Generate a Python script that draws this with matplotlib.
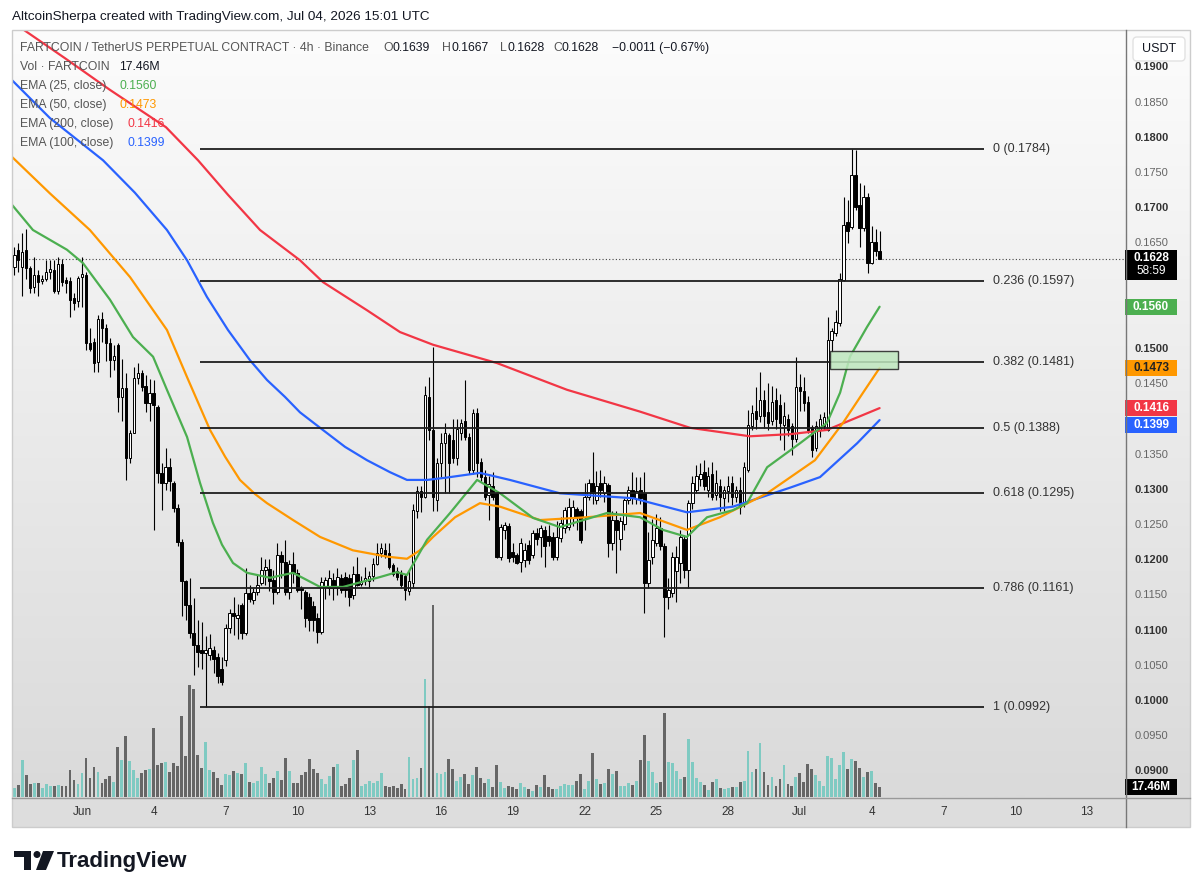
import numpy as np
import pandas as pd
import matplotlib
matplotlib.use('Agg')
import matplotlib.pyplot as plt
from matplotlib.colors import LinearSegmentedColormap
from matplotlib.patches import Rectangle, Polygon, Circle, FancyBboxPatch
from matplotlib.transforms import blended_transform_factory

plt.rcParams['font.family'] = ['Liberation Sans', 'DejaVu Sans']

# ---- values (4h candles, FARTCOIN/USDT) ----
first_candle = '2026-05-29 04:00'

opens = [
    0.1617, 0.1640, 0.1617, 0.1641, 0.1615, 0.1588, 0.1605, 0.1596, 0.1600, 0.1610,
    0.1612, 0.1582, 0.1620, 0.1598, 0.1596, 0.1572, 0.1568, 0.1602, 0.1605, 0.1508,
    0.1510, 0.1482, 0.1543, 0.1530, 0.1508, 0.1484, 0.1505, 0.1432, 0.1444, 0.1345,
    0.1381, 0.1459, 0.1466, 0.1448, 0.1423, 0.1437, 0.1418, 0.1324, 0.1310, 0.1332,
    0.1310, 0.1274, 0.1226, 0.1170, 0.1137, 0.1097, 0.1080, 0.1073, 0.1068, 0.1065,
    0.1072, 0.1062, 0.1045, 0.1058, 0.1104, 0.1125, 0.1118, 0.1136, 0.1097, 0.1153,
    0.1143, 0.1155, 0.1167, 0.1186, 0.1188, 0.1172, 0.1155, 0.1207, 0.1197, 0.1155,
    0.1195, 0.1182, 0.1160, 0.1155, 0.1148, 0.1135, 0.1118, 0.1098, 0.1163, 0.1160,
    0.1172, 0.1160, 0.1174, 0.1176, 0.1175, 0.1150, 0.1180, 0.1166, 0.1170, 0.1170,
    0.1178, 0.1195, 0.1210, 0.1215, 0.1210, 0.1193, 0.1185, 0.1180, 0.1177, 0.1156,
    0.1168, 0.1270, 0.1298, 0.1290, 0.1432, 0.1385, 0.1285, 0.1338, 0.1366, 0.1378,
    0.1370, 0.1345, 0.1380, 0.1398, 0.1375, 0.1328, 0.1409, 0.1340, 0.1318, 0.1292,
    0.1306, 0.1295, 0.1205, 0.1243, 0.1248, 0.1211, 0.1208, 0.1197, 0.1200, 0.1222,
    0.1208, 0.1238, 0.1233, 0.1243, 0.1235, 0.1233, 0.1205, 0.1232, 0.1245, 0.1247,
    0.1262, 0.1273, 0.1270, 0.1262, 0.1290, 0.1310, 0.1285, 0.1310, 0.1296, 0.1307,
    0.1225, 0.1257, 0.1230, 0.1252, 0.1285, 0.1300, 0.1287, 0.1300, 0.1295, 0.1168,
    0.1205, 0.1225, 0.1245, 0.1220, 0.1148, 0.1153, 0.1185, 0.1196, 0.1230, 0.1186,
    0.1281, 0.1300, 0.1315, 0.1325, 0.1300, 0.1323, 0.1293, 0.1305, 0.1288, 0.1298,
    0.1310, 0.1290, 0.1300, 0.1283, 0.1328, 0.1390, 0.1412, 0.1405, 0.1428, 0.1410,
    0.1398, 0.1428, 0.1420, 0.1392, 0.1400, 0.1390, 0.1372, 0.1446, 0.1440, 0.1425,
    0.1389, 0.1360, 0.1385, 0.1390, 0.1385, 0.1513, 0.1522, 0.1537, 0.1598, 0.1680,
    0.1673, 0.1747, 0.1705, 0.1672, 0.1716, 0.1622, 0.1652, 0.1639,
]
highs = [
    0.1645, 0.1650, 0.1665, 0.1670, 0.1618, 0.1630, 0.1612, 0.1605, 0.1626, 0.1627,
    0.1627, 0.1630, 0.1628, 0.1602, 0.1602, 0.1580, 0.1604, 0.1630, 0.1610, 0.1530,
    0.1515, 0.1548, 0.1552, 0.1535, 0.1516, 0.1505, 0.1508, 0.1486, 0.1466, 0.1385,
    0.1474, 0.1480, 0.1470, 0.1463, 0.1457, 0.1456, 0.1420, 0.1338, 0.1360, 0.1345,
    0.1312, 0.1280, 0.1230, 0.1172, 0.1175, 0.1146, 0.1115, 0.1112, 0.1093, 0.1095,
    0.1078, 0.1068, 0.1062, 0.1110, 0.1130, 0.1148, 0.1138, 0.1139, 0.1189, 0.1165,
    0.1160, 0.1180, 0.1205, 0.1202, 0.1202, 0.1186, 0.1224, 0.1213, 0.1229, 0.1200,
    0.1212, 0.1188, 0.1163, 0.1157, 0.1153, 0.1142, 0.1125, 0.1176, 0.1176, 0.1186,
    0.1182, 0.1189, 0.1180, 0.1183, 0.1180, 0.1192, 0.1205, 0.1177, 0.1190, 0.1184,
    0.1203, 0.1224, 0.1224, 0.1224, 0.1224, 0.1196, 0.1190, 0.1186, 0.1180, 0.1186,
    0.1280, 0.1305, 0.1305, 0.1448, 0.1460, 0.1503, 0.1345, 0.1380, 0.1395, 0.1380,
    0.1400, 0.1400, 0.1400, 0.1456, 0.1380, 0.1415, 0.1416, 0.1345, 0.1328, 0.1320,
    0.1325, 0.1298, 0.1252, 0.1254, 0.1253, 0.1225, 0.1210, 0.1232, 0.1225, 0.1228,
    0.1243, 0.1245, 0.1250, 0.1248, 0.1250, 0.1240, 0.1255, 0.1262, 0.1275, 0.1288,
    0.1285, 0.1276, 0.1272, 0.1310, 0.1315, 0.1354, 0.1326, 0.1328, 0.1320, 0.1310,
    0.1270, 0.1270, 0.1262, 0.1288, 0.1305, 0.1325, 0.1318, 0.1318, 0.1325, 0.1240,
    0.1258, 0.1265, 0.1262, 0.1225, 0.1175, 0.1212, 0.1220, 0.1243, 0.1236, 0.1285,
    0.1320, 0.1335, 0.1338, 0.1343, 0.1333, 0.1340, 0.1328, 0.1315, 0.1305, 0.1320,
    0.1320, 0.1306, 0.1318, 0.1340, 0.1414, 0.1420, 0.1446, 0.1467, 0.1442, 0.1452,
    0.1447, 0.1445, 0.1436, 0.1425, 0.1408, 0.1395, 0.1489, 0.1465, 0.1460, 0.1433,
    0.1392, 0.1398, 0.1408, 0.1410, 0.1545, 0.1530, 0.1555, 0.1608, 0.1716, 0.1712,
    0.1784, 0.1782, 0.1736, 0.1733, 0.1722, 0.1675, 0.1670, 0.1667,
]
lows = [
    0.1605, 0.1610, 0.1575, 0.1600, 0.1580, 0.1580, 0.1575, 0.1592, 0.1596, 0.1600,
    0.1580, 0.1578, 0.1590, 0.1580, 0.1545, 0.1556, 0.1560, 0.1560, 0.1498, 0.1497,
    0.1467, 0.1467, 0.1510, 0.1483, 0.1460, 0.1470, 0.1410, 0.1398, 0.1314, 0.1338,
    0.1380, 0.1450, 0.1440, 0.1410, 0.1398, 0.1243, 0.1310, 0.1271, 0.1300, 0.1298,
    0.1268, 0.1220, 0.1120, 0.1115, 0.1090, 0.1037, 0.1048, 0.1045, 0.0992, 0.1058,
    0.1040, 0.1026, 0.1022, 0.1050, 0.1097, 0.1094, 0.1088, 0.1088, 0.1094, 0.1140,
    0.1138, 0.1150, 0.1165, 0.1165, 0.1156, 0.1138, 0.1152, 0.1175, 0.1151, 0.1145,
    0.1168, 0.1155, 0.1130, 0.1105, 0.1100, 0.1100, 0.1082, 0.1095, 0.1145, 0.1150,
    0.1143, 0.1150, 0.1153, 0.1147, 0.1135, 0.1145, 0.1163, 0.1163, 0.1165, 0.1161,
    0.1170, 0.1193, 0.1205, 0.1203, 0.1187, 0.1178, 0.1172, 0.1160, 0.1143, 0.1150,
    0.1160, 0.1260, 0.1268, 0.1288, 0.1370, 0.1270, 0.1270, 0.1318, 0.1296, 0.1296,
    0.1338, 0.1335, 0.1370, 0.1370, 0.1322, 0.1322, 0.1318, 0.1312, 0.1285, 0.1257,
    0.1286, 0.1203, 0.1200, 0.1230, 0.1198, 0.1198, 0.1194, 0.1183, 0.1190, 0.1194,
    0.1203, 0.1222, 0.1205, 0.1190, 0.1220, 0.1200, 0.1200, 0.1226, 0.1238, 0.1243,
    0.1248, 0.1243, 0.1224, 0.1243, 0.1286, 0.1280, 0.1280, 0.1290, 0.1283, 0.1205,
    0.1215, 0.1182, 0.1215, 0.1243, 0.1280, 0.1280, 0.1280, 0.1280, 0.1125, 0.1160,
    0.1195, 0.1220, 0.1215, 0.1091, 0.1130, 0.1148, 0.1140, 0.1168, 0.1175, 0.1160,
    0.1272, 0.1295, 0.1305, 0.1300, 0.1290, 0.1285, 0.1285, 0.1270, 0.1270, 0.1283,
    0.1278, 0.1283, 0.1265, 0.1276, 0.1325, 0.1385, 0.1386, 0.1396, 0.1388, 0.1385,
    0.1392, 0.1386, 0.1370, 0.1356, 0.1377, 0.1350, 0.1368, 0.1412, 0.1412, 0.1380,
    0.1347, 0.1355, 0.1375, 0.1385, 0.1383, 0.1495, 0.1518, 0.1532, 0.1596, 0.1650,
    0.1670, 0.1698, 0.1645, 0.1668, 0.1608, 0.1620, 0.1632, 0.1628,
]
closes = [
    0.1633, 0.1627, 0.1638, 0.1615, 0.1587, 0.1605, 0.1595, 0.1600, 0.1610, 0.1614,
    0.1582, 0.1620, 0.1595, 0.1594, 0.1570, 0.1566, 0.1601, 0.1606, 0.1508, 0.1500,
    0.1480, 0.1543, 0.1530, 0.1508, 0.1485, 0.1490, 0.1432, 0.1444, 0.1345, 0.1381,
    0.1459, 0.1466, 0.1446, 0.1423, 0.1437, 0.1420, 0.1324, 0.1310, 0.1332, 0.1312,
    0.1274, 0.1226, 0.1170, 0.1137, 0.1097, 0.1080, 0.1070, 0.1068, 0.1072, 0.1075,
    0.1060, 0.1036, 0.1027, 0.1104, 0.1125, 0.1120, 0.1122, 0.1097, 0.1153, 0.1145,
    0.1155, 0.1165, 0.1186, 0.1190, 0.1170, 0.1155, 0.1207, 0.1197, 0.1155, 0.1195,
    0.1182, 0.1158, 0.1157, 0.1118, 0.1115, 0.1115, 0.1098, 0.1169, 0.1172, 0.1175,
    0.1160, 0.1176, 0.1158, 0.1157, 0.1147, 0.1180, 0.1165, 0.1170, 0.1174, 0.1177,
    0.1195, 0.1210, 0.1217, 0.1208, 0.1190, 0.1180, 0.1176, 0.1165, 0.1158, 0.1170,
    0.1271, 0.1298, 0.1290, 0.1435, 0.1385, 0.1290, 0.1338, 0.1366, 0.1380, 0.1338,
    0.1345, 0.1386, 0.1395, 0.1375, 0.1328, 0.1409, 0.1338, 0.1318, 0.1290, 0.1308,
    0.1290, 0.1205, 0.1247, 0.1250, 0.1203, 0.1205, 0.1196, 0.1225, 0.1215, 0.1200,
    0.1238, 0.1230, 0.1246, 0.1220, 0.1227, 0.1205, 0.1233, 0.1253, 0.1271, 0.1276,
    0.1276, 0.1262, 0.1229, 0.1290, 0.1310, 0.1296, 0.1305, 0.1300, 0.1310, 0.1225,
    0.1257, 0.1243, 0.1255, 0.1285, 0.1300, 0.1288, 0.1298, 0.1288, 0.1168, 0.1200,
    0.1228, 0.1245, 0.1220, 0.1148, 0.1157, 0.1205, 0.1205, 0.1233, 0.1186, 0.1281,
    0.1310, 0.1320, 0.1322, 0.1305, 0.1320, 0.1290, 0.1310, 0.1290, 0.1300, 0.1306,
    0.1290, 0.1300, 0.1275, 0.1332, 0.1392, 0.1409, 0.1400, 0.1428, 0.1405, 0.1395,
    0.1425, 0.1400, 0.1395, 0.1405, 0.1385, 0.1372, 0.1446, 0.1440, 0.1423, 0.1385,
    0.1357, 0.1390, 0.1400, 0.1403, 0.1513, 0.1525, 0.1538, 0.1600, 0.1676, 0.1668,
    0.1747, 0.1702, 0.1672, 0.1716, 0.1622, 0.1652, 0.1639, 0.1628,
]
# volume, millions
volumes = [
    16.9, 21.7, 66.2, 39.7, 24.1, 25.3, 25.3, 15.7, 22.9, 19.3,
    20.5, 21.7, 19.3, 20.5, 49.4, 30.1, 22.9, 43.3, 69.8, 33.7,
    54.2, 45.8, 25.3, 32.5, 37.3, 27.7, 90.3, 66.2, 109.6, 65.0,
    49.4, 34.9, 43.3, 48.2, 50.6, 125.2, 57.8, 61.4, 63.8, 44.5,
    61.4, 55.4, 146.9, 73.4, 202.3, 195.0, 75.9, 53.0, 99.9, 49.4,
    44.5, 34.9, 21.7, 40.9, 39.7, 47.0, 43.3, 42.1, 61.4, 26.5,
    25.3, 28.9, 54.2, 40.9, 25.3, 33.7, 47.0, 30.1, 71.0, 47.0,
    25.3, 25.3, 39.7, 44.5, 68.6, 50.6, 43.3, 32.5, 24.1, 38.5,
    54.2, 59.0, 20.5, 22.9, 33.7, 66.2, 84.3, 19.3, 22.9, 28.9,
    25.3, 28.9, 43.3, 19.3, 18.1, 19.3, 15.7, 24.1, 14.4, 72.2,
    32.5, 34.9, 53.0, 213.1, 163.7, 346.8, 43.9, 41.5, 45.2, 69.2,
    51.2, 28.3, 36.7, 41.5, 23.5, 40.3, 53.6, 34.3, 25.9, 31.9,
    18.7, 58.4, 27.1, 16.3, 19.9, 17.5, 13.8, 24.7, 17.5, 13.8,
    11.4, 22.3, 18.7, 40.3, 17.5, 15.1, 15.1, 19.9, 23.5, 21.1,
    21.1, 28.3, 41.5, 13.8, 28.3, 80.1, 33.1, 23.5, 24.7, 51.2,
    41.5, 46.4, 19.9, 19.9, 24.7, 22.3, 28.3, 66.8, 112.6, 64.4,
    45.2, 25.9, 27.1, 151.1, 63.2, 60.8, 47.6, 33.1, 36.7, 104.1,
    63.2, 34.3, 27.1, 22.3, 12.6, 27.1, 31.9, 16.3, 13.8, 16.3,
    18.7, 18.7, 27.1, 28.3, 82.5, 45.2, 51.2, 98.1, 45.2, 22.3,
    36.7, 19.9, 31.9, 58.4, 23.5, 19.9, 36.7, 43.9, 27.1, 59.6,
    51.2, 40.3, 28.3, 19.9, 74.0, 70.4, 33.1, 57.2, 81.3, 50.0,
    69.2, 65.6, 52.4, 36.7, 45.2, 47.6, 25.9, 17.46,
]

# EMAs, days since Jun 1 and value
ema25_days = [-2.93, -2.05, -0.63, 0.04, 1.17, 2.13, 2.97, 3.55, 4.39, 4.93,
              5.47, 5.85, 6.31, 6.90, 7.86, 8.82, 9.95, 10.91, 12.45, 13.16, 13.58,
              14.42, 15.38, 16.51, 17.47, 18.85, 19.97, 21.94, 23.32, 24.28, 25.28,
              26.12, 27.20, 27.79, 28.63, 30.00, 31.13, 31.68, 32.09, 32.80, 33.33]
ema25_vals = [0.1705, 0.1669, 0.1641, 0.1622, 0.1570, 0.1517, 0.1489, 0.1442, 0.1375, 0.1310,
              0.1253, 0.1222, 0.1196, 0.1182, 0.1175, 0.1182, 0.1162, 0.1162, 0.1176, 0.1183, 0.1179,
              0.1229, 0.1267, 0.1314, 0.1295, 0.1260, 0.1247, 0.1267, 0.1261, 0.1243, 0.1233,
              0.1261, 0.1271, 0.1281, 0.1332, 0.1366, 0.1395, 0.1438, 0.1489, 0.1531, 0.1560]
ema50_days = [-2.93, -1.34, 0.33, 2.01, 3.55, 4.39, 5.35, 5.98, 6.60, 7.23, 7.73, 8.82,
              9.95, 11.32, 12.75, 13.58, 14.12, 14.67, 15.59, 16.63, 17.47, 19.14, 21.10, 23.32,
              25.28, 26.66, 28.63, 30.63, 31.80, 32.64, 33.33]
ema50_vals = [0.1773, 0.1721, 0.1669, 0.1602, 0.1527, 0.1460, 0.1385, 0.1347, 0.1314, 0.1294, 0.1281, 0.1257,
              0.1233, 0.1214, 0.1205, 0.1202, 0.1214, 0.1233, 0.1261, 0.1281, 0.1276, 0.1257, 0.1261, 0.1267,
              0.1243, 0.1261, 0.1295, 0.1342, 0.1395, 0.1438, 0.1473]
ema100_days = [-2.93, -1.34, 0.88, 2.21, 3.55, 4.39, 5.22, 6.10, 7.02, 7.73, 8.48, 9.11, 9.95,
               10.99, 11.91, 12.87, 13.58, 14.42, 15.17, 16.63, 17.88, 19.97, 23.03, 25.28, 27.20, 29.59,
               30.84, 32.39, 33.33]
ema100_vals = [0.1882, 0.1828, 0.1768, 0.1722, 0.1669, 0.1626, 0.1574, 0.1527, 0.1484, 0.1456, 0.1432, 0.1410, 0.1388,
               0.1361, 0.1342, 0.1325, 0.1314, 0.1314, 0.1317, 0.1324, 0.1314, 0.1295, 0.1288, 0.1268, 0.1276, 0.1303,
               0.1318, 0.1366, 0.1399]
ema200_days = [-2.42, -0.71, 1.17, 3.51, 4.85, 6.10, 7.44, 9.11, 10.07, 11.91,
               13.29, 14.67, 17.34, 20.27, 23.32, 25.41, 27.91, 29.59, 31.13, 33.33]
ema200_vals = [0.1953, 0.1913, 0.1868, 0.1815, 0.1768, 0.1719, 0.1669, 0.1626, 0.1595, 0.1555,
               0.1524, 0.1506, 0.1480, 0.1442, 0.1411, 0.1388, 0.1376, 0.1379, 0.1385, 0.1416]

fib_levels = ['0', '0.236', '0.382', '0.5', '0.618', '0.786', '1']
fib_prices = [0.1784, 0.1597, 0.1481, 0.1388, 0.1295, 0.1161, 0.0992]
fib_start, fib_end, fib_label_at = '2026-06-05 22:00', '2026-07-08 17:00', '2026-07-09 02:00'

zone_start, zone_end = '2026-07-02 06:00', '2026-07-05 02:30'
zone_lo, zone_hi = 0.1472, 0.1497

date_ticks = [0, 3, 6, 9, 12, 15, 18, 21, 24, 27, 30, 33, 36, 39, 42]
date_labels = ['Jun', '4', '7', '10', '13', '16', '19', '22', '25', '28', 'Jul', '4', '7', '10', '13']
countdown = '58:59'

# ---- colours ----
GREEN, ORANGE, RED, BLUE = '#4caf50', '#ff9800', '#f23645', '#2962ff'
INK = '#131722'
VOL_UP, VOL_DOWN = '#7fcac2', '#666666'

day0 = pd.Timestamp('2026-06-01')
def to_day(ts):
    return (pd.Timestamp(ts) - day0) / pd.Timedelta(days=1)

times = pd.date_range(first_candle, periods=len(opens), freq='4h')
t = ((times - day0) / pd.Timedelta(days=1)).to_numpy()
o, h, l, c = map(np.array, (opens, highs, lows, closes))
up = c >= o

# ---- figure layout (pixel boxes) ----
W, H = 1200, 894
def box(x0, y0, x1, y1):
    return [x0 / W, 1 - y1 / H, (x1 - x0) / W, (y1 - y0) / H]

x_lo, x_hi = -2.925, 43.585
p_lo, p_hi = 0.08636, 0.19531
vol_top = 1385

fig = plt.figure(figsize=(12, 8.94), dpi=100)
bg = LinearSegmentedColormap.from_list('bg', ['#fcfcfc', '#dadada'])
grad = np.linspace(0, 1, 256).reshape(-1, 1)

vax = fig.add_axes(box(12, 30, 1125, 797))
vax.imshow(grad, aspect='auto', cmap=bg, extent=[0, 1, 0, 1], transform=vax.transAxes, zorder=0)
vax.bar(t, volumes, width=0.12, color=np.where(up, VOL_UP, VOL_DOWN), zorder=2)
vax.set_ylim(0, vol_top)
vax.axis('off')

ax = fig.add_axes(box(12, 30, 1125, 797), sharex=vax)
ax.axis('off')

# current price dotted line
ax.axhline(closes[-1], color='#444', lw=0.8, ls=(0, (1, 2)), zorder=2)

# candles
ax.vlines(t, l, h, color='black', lw=0.8, zorder=3)
body_lo = np.minimum(o, c)
body_h = np.maximum(np.abs(c - o), 0.00012)
ax.bar(t, body_h, bottom=body_lo, width=0.11, color=np.where(up, 'white', 'black'),
       edgecolor='black', linewidth=0.7, zorder=4)

# EMAs
for d, v, col in [(ema200_days, ema200_vals, RED), (ema100_days, ema100_vals, BLUE),
                  (ema50_days, ema50_vals, ORANGE), (ema25_days, ema25_vals, GREEN)]:
    ax.plot(d, v, color=col, lw=1.6, zorder=5, solid_capstyle='round', solid_joinstyle='round')

# fib retracement
for lvl, p in zip(fib_levels, fib_prices):
    ax.hlines(p, to_day(fib_start), to_day(fib_end), color='#1e1e1e', lw=1.3, zorder=6)
    ax.text(to_day(fib_label_at), p, f'{lvl} ({p:.4f})', va='center', ha='left',
            fontsize=9, color='#333', zorder=6)

# green zone
ax.add_patch(Rectangle((to_day(zone_start), zone_lo), to_day(zone_end) - to_day(zone_start),
                       zone_hi - zone_lo, fc='#bfe8bf', ec='#222', lw=1, alpha=0.85, zorder=7))

ax.set_xlim(x_lo, x_hi)
ax.set_ylim(p_lo, p_hi)

# ---- price scale ----
pax = fig.add_axes(box(1125, 30, 1190, 797))
pax.imshow(grad, aspect='auto', cmap=bg, extent=[0, 1, 0, 1], transform=pax.transAxes, zorder=0)
pax.set_ylim(p_lo, p_hi)
pax.set_xlim(0, 1)
pax.axis('off')

per_px = (p_hi - p_lo) / 767
badges = [
    (closes[-1] - 6 * per_px, 30, 'black', [f'{closes[-1]:.4f}', countdown], 'white'),
    (ema25_vals[-1], 16, GREEN, [f'{ema25_vals[-1]:.4f}'], 'white'),
    (ema50_vals[-1], 16, ORANGE, [f'{ema50_vals[-1]:.4f}'], '#222'),
    (ema200_vals[-1], 16, RED, [f'{ema200_vals[-1]:.4f}'], 'white'),
    (ema200_vals[-1] - 17 * per_px, 16, BLUE, [f'{ema100_vals[-1]:.4f}'], 'white'),
]

for k in range(18, 39):
    p = k * 0.005
    if any(abs(p - cen) < (hh / 2 + 6) * per_px for cen, hh, *_ in badges):
        continue
    major = k % 2 == 0
    pax.text(0.15, p, f'{p:.4f}', va='center', ha='left', fontsize=8,
             color='#333' if major else '#666', fontweight='bold' if major else 'normal', zorder=1)

ytr = pax.get_yaxis_transform()
for center, height, fc, lines, tc in badges:
    pax.add_patch(Rectangle((0, center - height / 2 * per_px), 0.8, height * per_px,
                            fc=fc, ec='none', transform=ytr, zorder=3))
    n = len(lines)
    for j, s in enumerate(lines):
        yy = center + (n - 1) / 2 * 13 * per_px - j * 13 * per_px
        pax.text(0.4, yy, s, ha='center', va='center', fontsize=8.5, color=tc,
                 fontweight='bold' if j == 0 else 'normal', zorder=4)

vtr = blended_transform_factory(pax.transAxes, vax.transData)
vpx = vol_top / 767
pax.add_patch(Rectangle((0, volumes[-1] - 8 * vpx), 0.8, 16 * vpx, fc='black', ec='none',
                        transform=vtr, zorder=3))
pax.text(0.4, volumes[-1], f'{volumes[-1]:.2f}M', transform=vtr, ha='center', va='center',
         fontsize=8.5, color='white', fontweight='bold', zorder=4)

# ---- date scale ----
dax = fig.add_axes(box(12, 797, 1125, 827), sharex=vax)
dax.set_facecolor('#dddddd')
dax.set_yticks([])
dax.set_xticks([])
for s in dax.spines.values():
    s.set_visible(False)
for d, lab in zip(date_ticks, date_labels):
    dax.text(d, 0.5, lab, transform=dax.get_xaxis_transform(), ha='center', va='center',
             fontsize=8.5, color='#333')
dax.set_xlim(x_lo, x_hi)

cax = fig.add_axes(box(1125, 797, 1190, 827))
cax.set_facecolor('#dddddd')
cax.set_xticks([])
cax.set_yticks([])
for s in cax.spines.values():
    s.set_visible(False)

# ---- overlay: header, legend, frame, logo ----
ov = fig.add_axes([0, 0, 1, 1])
ov.set_xlim(0, W)
ov.set_ylim(H, 0)
ov.axis('off')

ov.add_patch(Rectangle((12, 30), 1178, 797, fc='none', ec='#cccccc', lw=1))
ov.plot([1125.5, 1125.5], [30, 827], color='#777', lw=1)
ov.plot([12, 1190], [797.5, 797.5], color='#999', lw=1)

ov.add_patch(FancyBboxPatch((1133, 37), 52, 24, boxstyle='round,pad=0,rounding_size=4',
                            fc='white', ec='#e2e2e2', lw=1))
ov.text(1159, 49.5, 'USDT', ha='center', va='center', fontsize=9, color=INK)

ov.text(12, 17, 'AltcoinSherpa created with TradingView.com, Jul 04, 2026 15:01 UTC',
        fontsize=9.7, color=INK, va='center')

FS = 8.8
ov.text(20, 48, 'FARTCOIN / TetherUS PERPETUAL CONTRACT · 4h · Binance', fontsize=FS,
        color='#555', va='center')
for letter, val, xx, w in [('O', opens[-1], 383, 9.5), ('H', highs[-1], 442, 9),
                           ('L', lows[-1], 500, 7.5), ('C', closes[-1], 553, 9)]:
    ov.text(xx, 48, letter, fontsize=FS, color='#555', va='center')
    ov.text(xx + w, 48, f'{val:.4f}', fontsize=FS, color=INK, va='center')
chg = closes[-1] - closes[-2]
ov.text(612, 48, f'{chg:+.4f} ({chg / closes[-2] * 100:+.2f}%)'.replace('-', '\u2212'),
        fontsize=FS, color=INK, va='center')

ov.text(20, 67, 'Vol · FARTCOIN', fontsize=FS, color='#555', va='center')
ov.text(119, 67, f'{volumes[-1]:.2f}M', fontsize=FS, color=INK, va='center')
for yy, name, val, col, xv in [(86, 'EMA (25, close)', ema25_vals[-1], GREEN, 120),
                               (105, 'EMA (50, close)', ema50_vals[-1], ORANGE, 120),
                               (124, 'EMA (200, close)', ema200_vals[-1], RED, 128),
                               (143, 'EMA (100, close)', ema100_vals[-1], BLUE, 128)]:
    ov.text(20, yy, name, fontsize=FS, color='#555', va='center')
    ov.text(xv, yy, f'{val:.4f}', fontsize=FS, color=col, va='center')

# TradingView logo
ov.add_patch(Rectangle((14, 851), 17, 6, fc=INK, ec='none'))
ov.add_patch(Rectangle((24, 851), 7, 19, fc=INK, ec='none'))
ov.add_patch(Circle((37, 854.5), 3.5, fc=INK, ec='none'))
ov.add_patch(Polygon([(43, 851), (54, 851), (46, 870), (36, 870)], fc=INK, ec='none'))
ov.text(57, 861, 'TradingView', fontsize=16, fontweight='bold', color=INK, va='center')

fig.savefig('out.png', dpi=100)
